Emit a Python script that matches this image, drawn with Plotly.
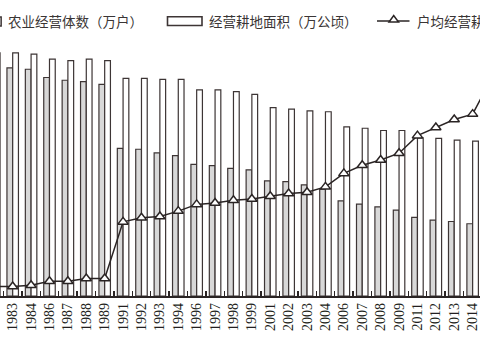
import plotly.graph_objects as go

years = ["1982", "1983", "1984", "1986", "1987", "1988", "1989", "1991", "1992", "1993",
         "1994", "1996", "1997", "1998", "1999", "2001", "2002", "2003", "2004", "2006",
         "2007", "2008", "2009", "2011", "2012", "2013", "2014", "2015"]

# 农业经营体数（万户）
households = [500, 499, 496, 478, 472, 469, 463, 323, 321, 313,
              307, 288, 285, 279, 276, 252, 250, 243, 234, 208,
              201, 195, 188, 172, 166, 163, 158, 150]

# 经营耕地面积（万公顷）
land = [532, 532, 529, 518, 515, 518, 515, 476, 476, 474,
        474, 451, 451, 447, 441, 412, 409, 405, 403, 370,
        367, 362, 362, 346, 345, 341, 339, 335]

# 户均经营耕地面积（公顷）
avg_area = [1.17, 1.17, 1.18, 1.21, 1.21, 1.23, 1.23, 1.65, 1.68, 1.69,
            1.73, 1.78, 1.79, 1.81, 1.82, 1.84, 1.86, 1.87, 1.91, 2.01,
            2.07, 2.11, 2.16, 2.29, 2.35, 2.41, 2.45, 2.71]

legend_names = ["农业经营体数（万户）", "经营耕地面积（万公顷）", "户均经营耕地面积（公顷）"]

DARK = "#2a2424"
EDGE = "#3d3535"
GREY = "#d8d8d8"
W, H = 480, 360
ML, MR, MT, MB = 0, 0, 40, 64
PH = H - MT - MB


def px(x):
    return (x - ML) / (W - ML - MR)


def py(y):
    return (H - MB - y) / PH


fig = go.Figure()
fig.add_trace(go.Bar(x=years, y=households, name=legend_names[0],
                     marker=dict(color=GREY, line=dict(color=EDGE, width=1.2)),
                     showlegend=False))
fig.add_trace(go.Bar(x=years, y=land, name=legend_names[1],
                     marker=dict(color="white", line=dict(color=EDGE, width=1.2)),
                     showlegend=False))
fig.add_trace(go.Scatter(x=years, y=avg_area, name=legend_names[2], yaxis="y2",
                         mode="lines+markers",
                         line=dict(color=DARK, width=1.5),
                         marker=dict(symbol="triangle-up", size=9, color="white",
                                     line=dict(color=DARK, width=1.5)),
                         showlegend=False))

shapes = [
    dict(type="rect", xref="paper", yref="paper", x0=px(-34), x1=px(1.2), y0=py(26), y1=py(17),
         fillcolor=GREY, line=dict(color=EDGE, width=1.4)),
    dict(type="rect", xref="paper", yref="paper", x0=px(167.5), x1=px(202), y0=py(25.5), y1=py(16.8),
         fillcolor="white", line=dict(color=EDGE, width=1.6)),
    dict(type="line", xref="paper", yref="paper", x0=px(377), x1=px(409.5), y0=py(21), y1=py(21),
         line=dict(color=DARK, width=1.5)),
    dict(type="path", xref="paper", yref="paper",
         path=f"M {px(389)} {py(22)} L {px(398.5)} {py(22)} L {px(393.7)} {py(15.5)} Z",
         fillcolor="white", line=dict(color=DARK, width=1.5)),
]

annotations = []
for name, x0 in zip(legend_names, [6, 207, 415]):
    annotations.append(dict(text=name, xref="paper", yref="paper", x=px(x0), y=py(21),
                            xanchor="left", yanchor="middle", showarrow=False,
                            font=dict(family="Noto Sans CJK SC", size=13.5, color="#3a3535")))

fig.update_layout(
    width=W, height=H,
    margin=dict(l=ML, r=MR, t=MT, b=MB, pad=0),
    paper_bgcolor="white", plot_bgcolor="white",
    barmode="group", bargap=0.375, bargroupgap=0,
    hovermode=False,
    xaxis=dict(type="category", categoryorder="array", categoryarray=years,
               range=[0.31, 26.40], autorange=False, showgrid=False, zeroline=False,
               showline=True, linecolor=DARK, linewidth=1.5,
               ticks="inside", tickson="boundaries", ticklen=5, tickwidth=1.5, tickcolor=DARK,
               tickangle=-90,
               tickfont=dict(family="Liberation Serif", size=14, color="#231f20")),
    yaxis=dict(range=[0, 560], visible=False, showgrid=False, zeroline=False),
    yaxis2=dict(range=[1.1, 3.0], overlaying="y", side="right", visible=False,
                showgrid=False, zeroline=False),
    shapes=shapes,
    annotations=annotations,
    showlegend=False,
)

fig.write_html("out.html", config={"displayModeBar": False, "staticPlot": True},
               post_script="document.body.style.margin='0';document.body.style.overflow='hidden';")
